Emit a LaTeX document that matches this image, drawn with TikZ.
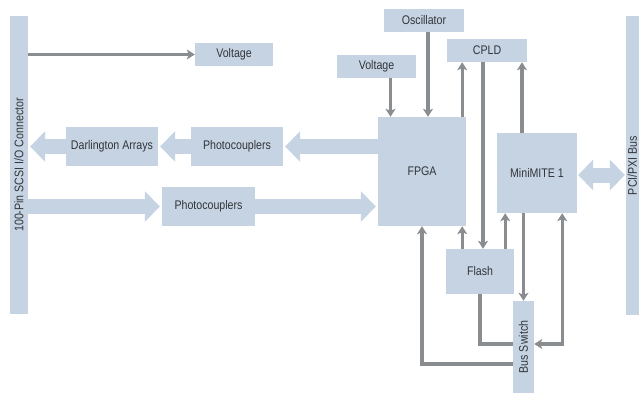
\documentclass[tikz,border=0pt]{standalone}
\usepackage{graphicx}
\usepackage{fontspec}
\setmainfont{Liberation Sans}[FakeStretch=0.85]
\usetikzlibrary{arrows.meta}

\definecolor{boxblue}{RGB}{197,211,227}
\definecolor{linegray}{RGB}{138,141,144}
\definecolor{labelgray}{RGB}{50,53,57}

\tikzset{
  blk/.style={fill=boxblue, text=labelgray, inner sep=0pt, font=\fontsize{12.5}{14}\selectfont},
  wire/.style={draw=linegray, line width=3.3pt},
  wirearrow/.style={wire, -{Stealth[length=8pt,width=10pt,inset=2pt]}},
  fat/.style={draw=boxblue, line width=15pt, -{Triangle[length=15pt,width=30pt]}, shorten >=2pt}
}

\newcommand{\lineVoltFpga}{([xshift=14pt]voltB.south) -- ([xshift=14pt]voltB.south |- fpga.north)}
\newcommand{\lineOscFpga}{([xshift=4pt]osc.south) -- ([xshift=4pt]osc.south |- fpga.north)}
\newcommand{\lineFpgaCpld}{([xshift=-4pt]fpga.north east) -- ([xshift=-4pt]fpga.north east |- cpld.south)}
\newcommand{\lineCpldFlash}{([xshift=-4pt]cpld.south) -- ([xshift=-4pt]cpld.south |- flash.north)}
\newcommand{\lineMiniCpld}{([xshift=-15pt]mini.north) -- ([xshift=-15pt]mini.north |- cpld.south)}
\newcommand{\lineFlashFpga}{([xshift=-4pt]fpga.south east |- flash.north) -- ([xshift=-4pt]fpga.south east)}
\newcommand{\lineFlashMini}{([xshift=-9pt]flash.north east) -- ([xshift=-9pt]flash.north east |- mini.south)}
\newcommand{\lineMiniBus}{(busw.north |- mini.south) -- (busw.north)}
\newcommand{\lineBusMini}{([yshift=3pt]busw.east) -| ([xshift=-15pt]mini.south east)}
\newcommand{\lineFlashBus}{(flash.south) |- ([yshift=3pt]busw.west)}
\newcommand{\lineBusFpga}{([yshift=-17pt]busw.west) -| (fpga.south)}
\newcommand{\lineConnVolt}{(conn.east |- voltA.west) -- (voltA.west)}

\begin{document}
\begin{tikzpicture}[x=1pt, y=-1pt]
        \useasboundingbox (0,0) rectangle (639,393);

        % side connectors
        \node[blk, minimum width=18pt, minimum height=298pt] (conn) at (19,165) {\rotatebox{90}{100-Pin SCSI I/O Connector}};
        \node[blk, minimum width=13pt, minimum height=299pt] (pci) at (632.5,165.5) {\rotatebox{90}{PCI/PXI Bus}};

        % left column
        \node[blk, minimum width=78pt, minimum height=23pt] (voltA) at (234,54.5) {Voltage};
        \node[blk, minimum width=92pt, minimum height=39pt] (darl) at (112,146.5) {Darlington Arrays};
        \node[blk, minimum width=92pt, minimum height=39pt] (photoA) at (237,146.5) {Photocouplers};
        \node[blk, minimum width=93pt, minimum height=39pt] (photoB) at (208.5,206.5) {Photocouplers};

        % logic
        \node[blk, minimum width=88pt, minimum height=109pt] (fpga) at (422,171.5) {FPGA};
        \node[blk, minimum width=80pt, minimum height=80pt] (mini) at (537,173) {MiniMITE 1};
        \node[blk, minimum width=80pt, minimum height=23pt] (osc) at (424,20.5) {Oscillator};
        \node[blk, minimum width=79pt, minimum height=23pt] (voltB) at (376.5,66.5) {Voltage};
        \node[blk, minimum width=80pt, minimum height=23pt] (cpld) at (487,50.5) {CPLD};
        \node[blk, minimum width=68pt, minimum height=45pt] (flash) at (480,271.5) {Flash};
        \node[blk, minimum width=21pt, minimum height=92pt] (busw) at (523.5,347) {\rotatebox{90}{Bus Switch}};

        % wide data arrows
        \draw[fat] (fpga.west |- photoA.east) -- (photoA.east);
        \draw[fat] (photoA.west) -- (darl.east);
        \draw[fat] (darl.west) -- (darl.west -| conn.east);
        \draw[fat] (conn.east |- photoB.west) -- (photoB.west);
        \draw[fat] (photoB.east) -- (photoB.east -| fpga.west);
        \draw[fat, {Triangle[length=15pt,width=30pt]}-{Triangle[length=15pt,width=30pt]}, shorten <=1pt, shorten >=1pt] ([yshift=-2pt]mini.east) -- ([yshift=-2pt]mini.east -| pci.west);

        % control lines
        \draw[wirearrow] \lineConnVolt;
        \draw[wirearrow] \lineVoltFpga;
        \draw[wirearrow] \lineOscFpga;
        \draw[wirearrow] \lineFpgaCpld;
        \draw[wirearrow] \lineCpldFlash;
        \draw[wirearrow] \lineMiniCpld;
        \draw[wirearrow] \lineFlashFpga;
        \draw[wirearrow] \lineFlashMini;
        \draw[wirearrow] \lineMiniBus;
        \draw[wire, {Stealth[length=8pt,width=10pt,inset=2pt]}-{Stealth[length=8pt,width=10pt,inset=2pt]}] \lineBusMini;
        \draw[wire] \lineFlashBus;
        \draw[wirearrow] \lineBusFpga;

    \end{tikzpicture}
\end{document}
